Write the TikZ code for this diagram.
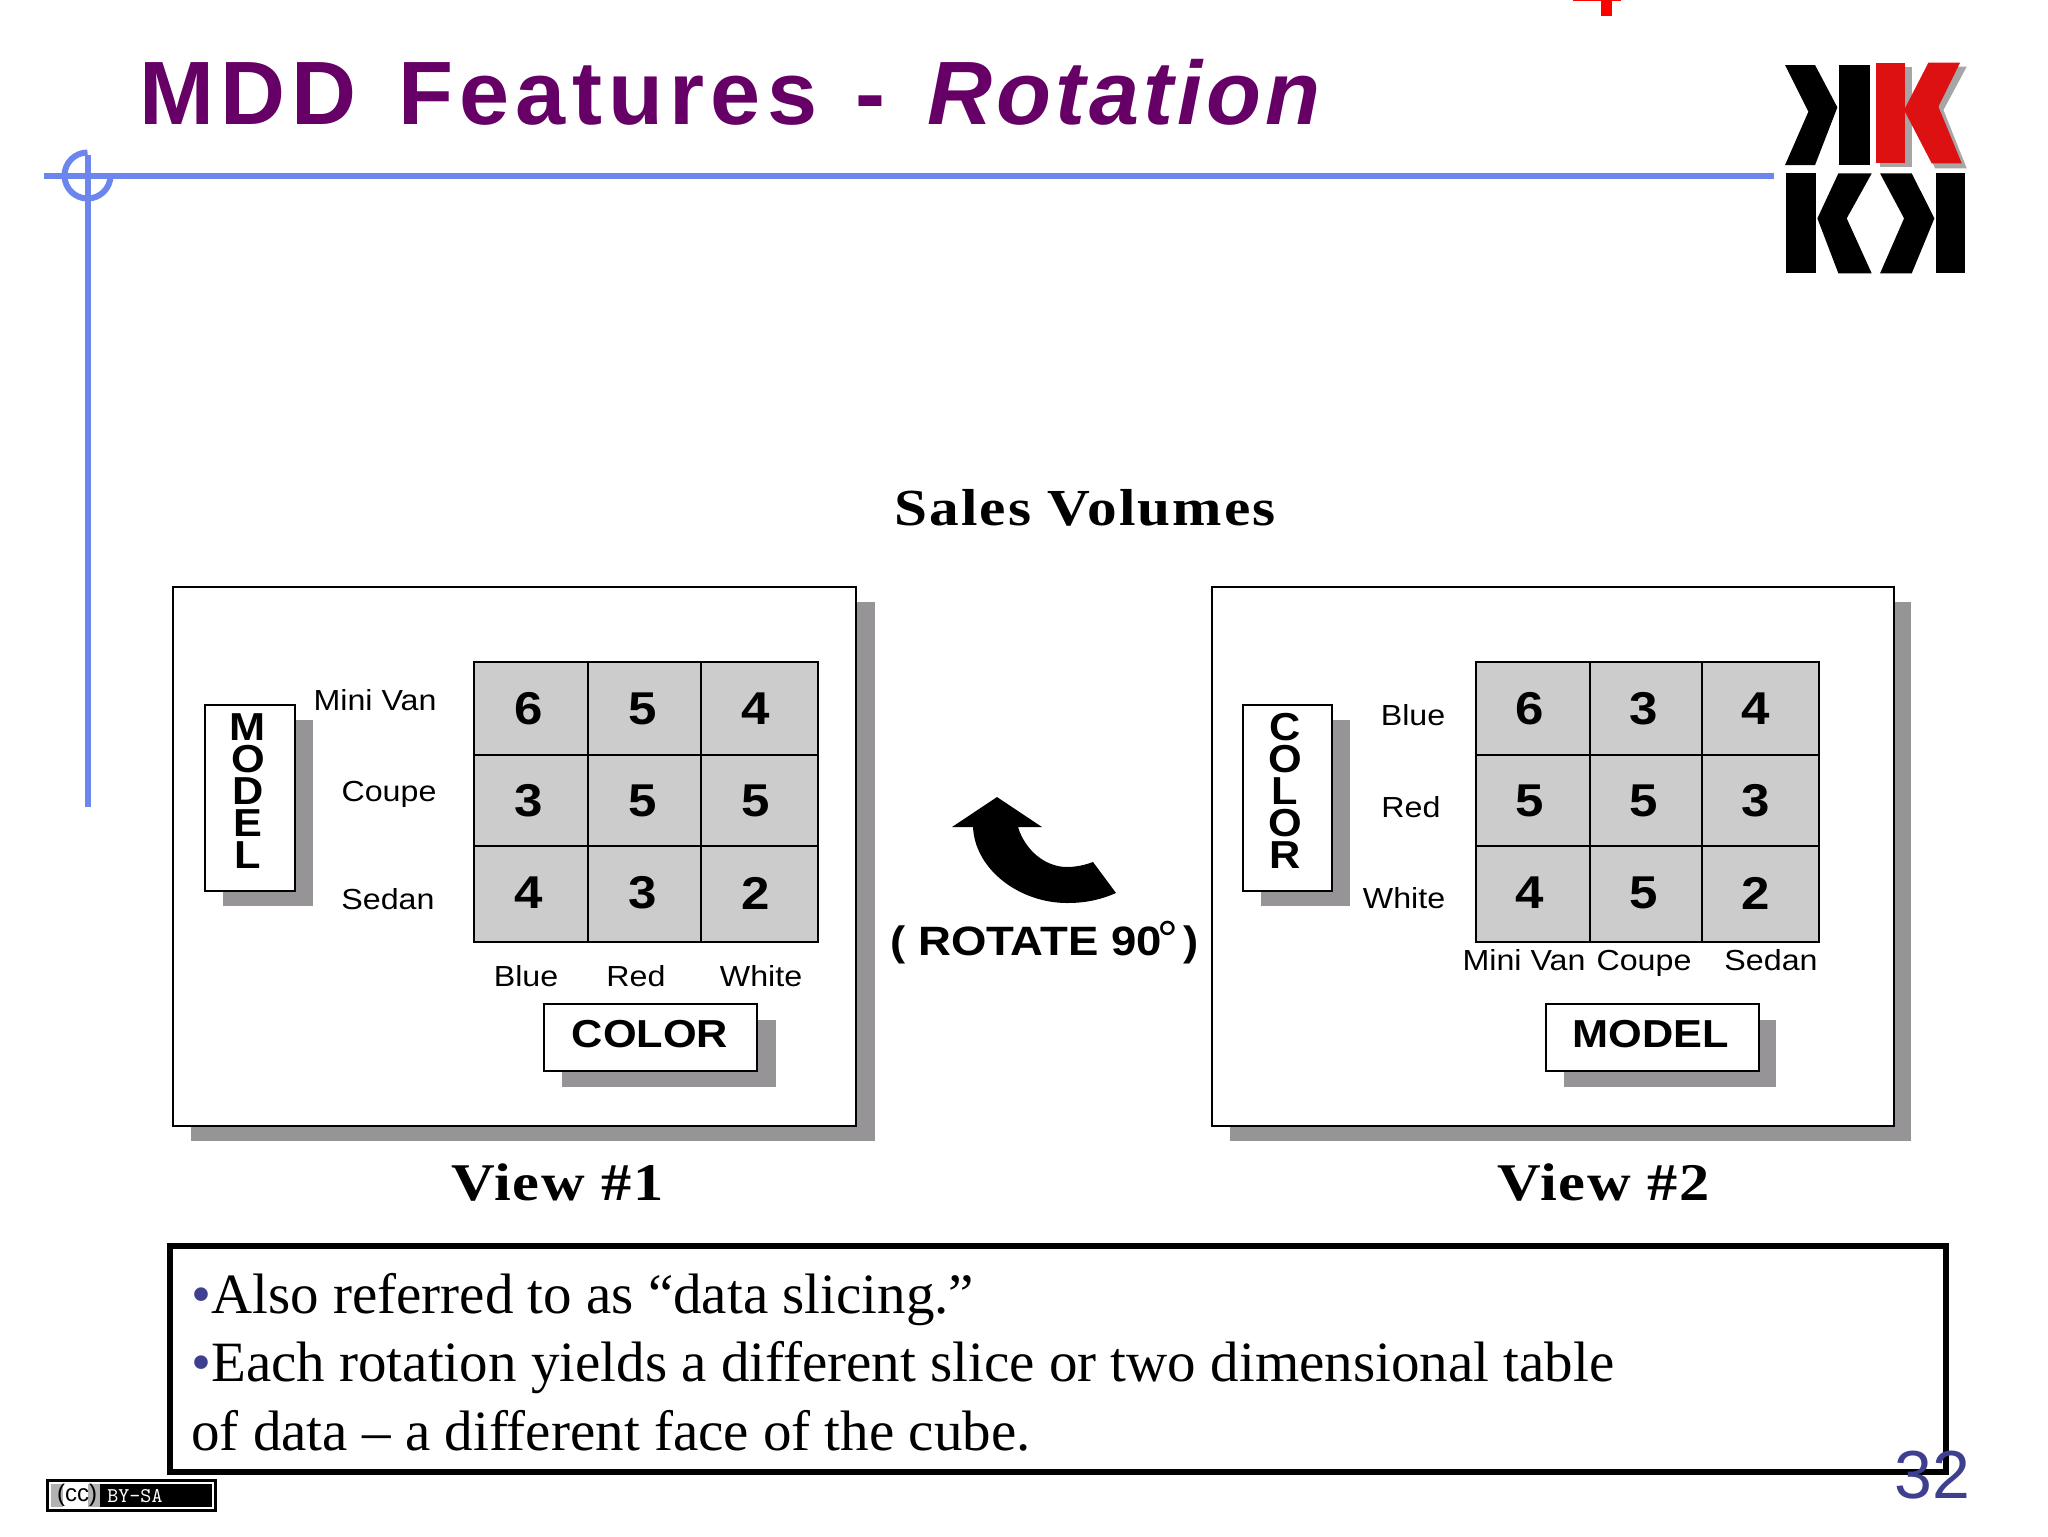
\documentclass[tikz,border=0pt]{standalone}
\usepackage{fontspec}
\setmainfont{Liberation Serif}
\setsansfont{Liberation Sans}
\newfontfamily\widesans[FakeStretch=1.11]{Liberation Sans}
\newfontfamily\wideserif[FakeStretch=1.14]{Liberation Serif}
\definecolor{ttl}{HTML}{660066}
\definecolor{rule}{HTML}{6C86EE}
\definecolor{shade}{HTML}{969496}
\definecolor{cellg}{HTML}{CCCCCC}
\definecolor{numc}{HTML}{3F3F8F}
\definecolor{kred}{HTML}{DD1111}
\newcommand{\fs}[1]{\fontsize{#1}{#1}\selectfont}
\tikzset{
 x=0.5pt,y=-0.5pt,
 rulel/.style={draw=rule,line width=3pt},
 panel/.style={draw=black,fill=white,line width=1.1pt,inner sep=0pt,anchor=north west},
 shadowb/.style={fill=shade,draw=none},
 cellb/.style={draw=black,fill=cellg,line width=0.8pt},
 lab/.style={font=\widesans\fs{14.5},inner sep=0pt,anchor=base},
 num/.style={font=\widesans\bfseries\fs{23},inner sep=0pt},
 axis/.style={font=\widesans\bfseries\fs{19.5},inner sep=0pt},
 axisv/.style={font=\widesans\bfseries\fs{19.5},inner sep=0pt,align=center},
 rotl/.style={font=\widesans\bfseries\fs{20.5},inner sep=0pt,anchor=base west},
 headl/.style={font=\wideserif\bfseries\fs{26},inner sep=0pt},
 viewl/.style={font=\wideserif\bfseries\fs{26.5},inner sep=0pt,anchor=base west},
 body/.style={font=\rmfamily\fs{28.5},inner sep=0pt,anchor=base west},
}
\begin{document}
\begin{tikzpicture}
\useasboundingbox (0,0) rectangle (2048,1536);
\fill[white] (0,0) rectangle (2048,1536);
% red fragment
\fill[red] (1573,0) rectangle (1621,1.5);
\fill[red] (1601,0) rectangle (1612,16);
% title
\node[anchor=base west,inner sep=0pt,text=ttl,font=\sffamily\bfseries\fs{45}] (title) at (139,125) {\addfontfeature{LetterSpace=7}MDD\hspace{5pt} Features\hspace{3.5pt} -\hspace{5pt} {\itshape\addfontfeature{LetterSpace=4.5}Rotation}};
% rules
\coordinate (ha) at (44,175.5); \coordinate (hb) at (1774,175.5);
\coordinate (va) at (87.5,155); \coordinate (vb) at (87.5,807);
\draw[rulel] (ha) -- (hb);
\draw[rulel] (va) -- (vb);
\draw[rulel] (87.5,152.5) arc (-90:-360:23);
% logo
\begin{scope}[shift={(1700,0)},x=0.1667pt,y=-0.1667pt]
 \fill[black] (255,195)--(345,195)--(412,322)--(345,495)--(255,495)--(325,335)--cycle;
 \fill[black] (418,195) rectangle (510,495);
 \fill[gray!70] (540,200) rectangle (635,500);
 \fill[gray!70] (700,200)--(800,200)--(730,330)--(800,505)--(705,505)--(632,340)--cycle;
 \fill[kred] (528,188) rectangle (615,490);
 \fill[kred] (685,188)--(780,188)--(715,320)--(785,490)--(695,490)--(612,330)--cycle;
 \fill[black] (257,520) rectangle (347,820);
 \fill[black] (415,520)--(515,520)--(440,655)--(515,820)--(415,820)--(352,655)--cycle;
 \fill[black] (540,520)--(635,520)--(703,655)--(635,820)--(540,820)--(612,655)--cycle;
 \fill[black] (708,520) rectangle (795,820);
\end{scope}
\node[headl] (sv) at (1085,508) {\addfontfeature{LetterSpace=4}Sales Volumes};
% panel 1
\fill[shadowb] (191,602) rectangle (875,1141);
\node[panel,minimum width=341.5pt,minimum height=269.5pt] (p1) at (172,586) {};
\fill[shadowb] (223,720) rectangle (313,906);
\node[panel,minimum width=45pt,minimum height=93pt] (mbox) at (204,704) {};
\node[axisv] (model1) at (248,791) {M\\[-3.5pt]O\\[-3.5pt]D\\[-3.5pt]E\\[-3.5pt]L};
\foreach \x/\w/\a/\b/\c in {474/114/6/3/4,588/113/5/5/3,701/117/4/5/2}{
 \draw[cellb] (\x,662) rectangle +(\w,93);
 \draw[cellb] (\x,755) rectangle +(\w,91);
 \draw[cellb] (\x,846) rectangle +(\w,96);
 \node[num] at (\x+55,709) {\a};
 \node[num] at (\x+55,801) {\b};
 \node[num] at (\x+55,893) {\c};
}
\node[lab] (mv) at (375,710) {Mini Van};
\node[lab] (co) at (389,801) {Coupe};
\node[lab] (se) at (388,909) {Sedan};
\node[lab] (bl) at (526,986) {Blue};
\node[lab] (re) at (636,986) {Red};
\node[lab] (wh) at (761,986) {White};
\fill[shadowb] (562,1020) rectangle (776,1087);
\node[panel,minimum width=106.5pt,minimum height=33.5pt] (cbox) at (543,1002.5) {};
\node[axis] (color1) at (650,1034) {COLOR};
% panel 2
\fill[shadowb] (1230,602) rectangle (1911,1141);
\node[panel,minimum width=341pt,minimum height=269.5pt] (p2) at (1211,586) {};
\fill[shadowb] (1261,720) rectangle (1350,906);
\node[panel,minimum width=44.5pt,minimum height=93pt] (cbox2) at (1242,704) {};
\node[axisv] (color2) at (1285,791) {C\\[-3.5pt]O\\[-3.5pt]L\\[-3.5pt]O\\[-3.5pt]R};
\foreach \x/\w/\a/\b/\c in {1476/114/6/5/4,1590/112/3/5/5,1702/117/4/3/2}{
 \draw[cellb] (\x,662) rectangle +(\w,93);
 \draw[cellb] (\x,755) rectangle +(\w,91);
 \draw[cellb] (\x,846) rectangle +(\w,96);
 \node[num] at (\x+54,709) {\a};
 \node[num] at (\x+54,801) {\b};
 \node[num] at (\x+54,893) {\c};
}
\node[lab] (bl2) at (1413,725) {Blue};
\node[lab] (re2) at (1411,817) {Red};
\node[lab] (wh2) at (1404,908) {White};
\node[lab] (mv2) at (1524,970) {Mini Van};
\node[lab] (co2) at (1644,970) {Coupe};
\node[lab] (se2) at (1771,970) {Sedan};
\fill[shadowb] (1564,1020) rectangle (1776,1087);
\node[panel,minimum width=106.5pt,minimum height=33.5pt] (mbox2) at (1545,1002.5) {};
\node[axis] (model2) at (1651,1034) {MODEL};
% arrow
\fill[black] (997,797)--(1042,827)--(1018,827)
  .. controls (1025,850) and (1045,867) .. (1067,867)
  .. controls (1076,867) and (1085,865) .. (1093,862)
  -- (1116,893)
  .. controls (1100,900) and (1085,903) .. (1067,903)
  .. controls (1020,903) and (975,870) .. (973,827)
  -- (952,827) -- cycle;
\node[rotl] (rot) at (890,955) {( ROTATE 90};
\node[font=\sffamily\fs{26},inner sep=0pt,anchor=base] (deg) at (1168,957) {°};
\node[rotl] (rp) at (1183,955) {)};
% view labels
\node[viewl] (v1) at (451,1200) {\addfontfeature{LetterSpace=3}View \#1};
\node[viewl] (v2) at (1497,1200) {\addfontfeature{LetterSpace=3}View \#2};
% text box
\draw[black,line width=3pt] (170,1246) rectangle (1946,1472);
\node[body] (t1) at (191,1313) {\textcolor{numc}{•}Also referred to as “data slicing.”};
\node[body] (t2) at (191,1381) {\textcolor{numc}{•}Each rotation yields a different slice or two dimensional table};
\node[body] (t3) at (191,1450) {of data – a different face of the cube.};
\node[font=\sffamily\fs{34},text=numc,inner sep=0pt,anchor=base east] (num) at (1971,1498) {32};
% cc badge
\fill[black] (46,1479) rectangle (217,1512);
\fill[white] (49,1482) rectangle (214,1509);
\fill[black] (51,1484) rectangle (212,1507);
\fill[gray!60] (51,1484) rectangle (100,1507);
\fill[white] (63,1482) rectangle (88,1509);
\node[font=\sffamily\fs{12},inner sep=0pt] (cc) at (77,1495.5) {(cc)};
\node[font=\ttfamily\fs{10.5},text=white,inner sep=0pt,anchor=west] (bysa) at (107,1496) {BY-SA};
\end{tikzpicture}
\end{document}
